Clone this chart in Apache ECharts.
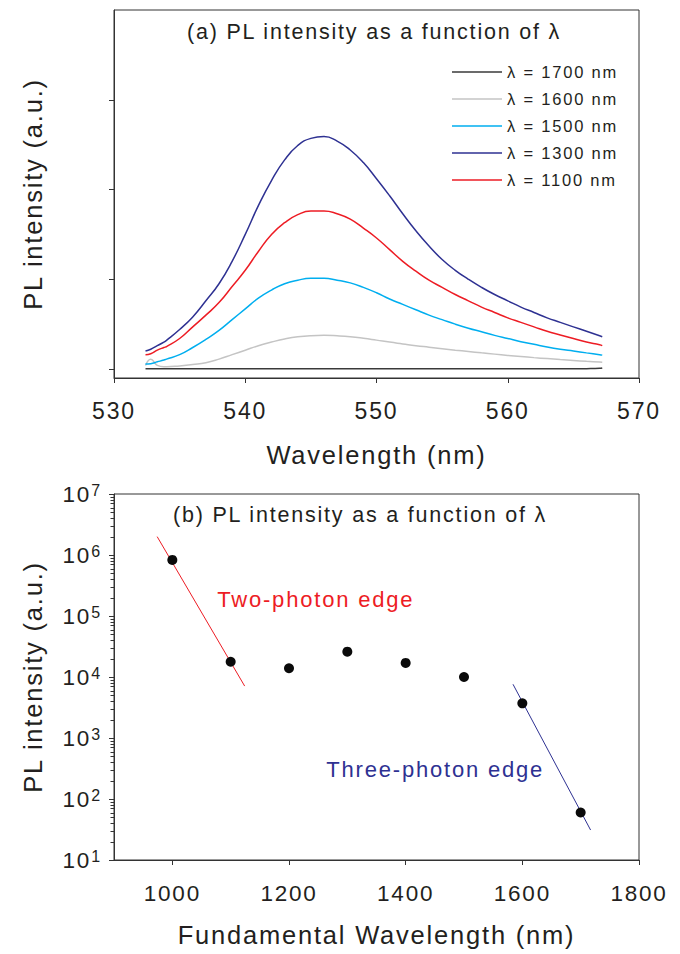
<!DOCTYPE html>
<html><head><meta charset="utf-8">
<script src="https://cdn.jsdelivr.net/npm/echarts@6/dist/echarts.min.js"></script>
<style>
html,body{margin:0;padding:0;background:#fff;}
#c{width:680px;height:954px;}
#c text{letter-spacing:1.8px;}
</style></head><body><div id="c"></div>
<script>
// ---------- Panel (a) data ----------
const wavelengthA = [532.4,532.8,533.3,533.8,534,535,536,537,538,539,540,541,542,543,544,545,546,547,548,549,550,551,552,553,554,555,556,557,558,559,560,561,562,563,564,565,566,567,567.2];
const pl1700 = [0.002,0.002,0.002,0.002,0.002,0.002,0.002,0.002,0.002,0.002,0.002,0.002,0.002,0.002,0.002,0.002,0.002,0.002,0.002,0.002,0.002,0.002,0.002,0.002,0.002,0.002,0.002,0.002,0.002,0.002,0.002,0.002,0.002,0.002,0.002,0.002,0.004,0.008,0.012];
const pl1600 = [0.04,0.11,0.04,0.025,0.025,0.035,0.05,0.07,0.11,0.16,0.21,0.26,0.30,0.335,0.36,0.372,0.375,0.37,0.36,0.343,0.322,0.30,0.28,0.26,0.243,0.226,0.21,0.195,0.18,0.166,0.152,0.139,0.127,0.116,0.105,0.095,0.086,0.078,0.076];
const pl1500 = [0.055,0.06,0.08,0.10,0.11,0.16,0.24,0.33,0.43,0.55,0.67,0.79,0.88,0.95,0.99,1.01,1.01,0.99,0.96,0.91,0.85,0.78,0.72,0.66,0.60,0.55,0.50,0.455,0.415,0.375,0.34,0.305,0.275,0.245,0.22,0.20,0.18,0.16,0.155];
const pl1300 = [0.20,0.22,0.26,0.30,0.32,0.44,0.58,0.76,0.95,1.20,1.50,1.82,2.10,2.33,2.49,2.57,2.59,2.54,2.44,2.30,2.12,1.93,1.73,1.54,1.37,1.22,1.10,1.00,0.91,0.83,0.76,0.69,0.63,0.57,0.52,0.47,0.42,0.37,0.36];
const pl1100 = [0.16,0.17,0.21,0.24,0.25,0.34,0.47,0.60,0.74,0.92,1.10,1.31,1.50,1.63,1.72,1.76,1.76,1.73,1.67,1.57,1.46,1.33,1.20,1.09,0.99,0.91,0.83,0.76,0.69,0.63,0.57,0.52,0.47,0.42,0.38,0.34,0.30,0.27,0.26];
const seriesNamesA = ['λ = 1700 nm','λ = 1600 nm','λ = 1500 nm','λ = 1300 nm','λ = 1100 nm'];
const seriesValuesA = [pl1700, pl1600, pl1500, pl1300, pl1100];
const xTicksA = [530,540,550,560,570];

// ---------- Panel (b) data ----------
const fundWavelength = [1000,1100,1200,1300,1400,1500,1600,1700];
const plIntensityB = [8.3e5,1.78e4,1.39e4,2.6e4,1.7e4,1.0e4,3.7e3,60];
const twoPhotonFitX = [974,1124];
const twoPhotonFitY = [2.0e6,7.1e3];
const threePhotonFitX = [1584,1717];
const threePhotonFitY = [7.6e3,31];
const xTicksB = [1000,1200,1400,1600,1800];
const yTicksB = [1e1,1e2,1e3,1e4,1e5,1e6,1e7];
const yTickExponents = ['1','2','3','4','5','6','7'];
const annotTexts = ['Two-photon edge','Three-photon edge'];
const annotX = [1077,1264];
const annotY = [1.83e5,310];

// ---------- styling ----------
const FONT = 'Liberation Sans';
const TXT = '#231f20';
const AX = '#333';
const colorsA = ['#3a3a3a','#c4c4c4','#00aeef','#2e3192','#ed1c24'];
const annotColors = ['#ed1c24','#2e3192'];

// minor tick positions of the log axis (2..9 x each decade)
const minorB = [];
for (let e = 1; e < 7; e++) for (let k = 2; k <= 9; k++) minorB.push(k * Math.pow(10, e));

const chart = echarts.init(document.getElementById('c'), null, {renderer: 'svg'});

const axisLineStyle = {onZero: false, lineStyle: {color: AX, width: 1}};
const seriesA = seriesNamesA.map((n, i) => ({
  name: n, type: 'line', xAxisIndex: 0, yAxisIndex: 0,
  data: wavelengthA.map((w, j) => [w, seriesValuesA[i][j]]),
  showSymbol: false, symbol: 'none', smooth: 0.5,
  lineStyle: {color: colorsA[i], width: 1.5}, itemStyle: {color: colorsA[i]},
  z: 2 + i
}));

const option = {
  animation: false,
  backgroundColor: '#fff',
  textStyle: {fontFamily: FONT, color: TXT},
  title: [
    {text: '(a) PL intensity as a function of λ', left: 187, top: 20, padding: 0,
     textStyle: {fontFamily: FONT, fontSize: 21.5, fontWeight: 'normal', color: TXT, lineHeight: 24}},
    {text: '(b) PL intensity as a function of λ', left: 173, top: 503, padding: 0,
     textStyle: {fontFamily: FONT, fontSize: 21.5, fontWeight: 'normal', color: TXT, lineHeight: 24}}
  ],
  legend: {
    data: seriesNamesA, orient: 'vertical', left: 452, top: 63, padding: 0,
    icon: 'rect', itemWidth: 50, itemHeight: 1.5, itemGap: 9,
    textStyle: {fontFamily: FONT, fontSize: 16.5, color: TXT, lineHeight: 18},
    selectedMode: false
  },
  grid: [
    {left: 114, right: 41, top: 10, height: 368, show: true, borderColor: AX, borderWidth: 1, backgroundColor: 'transparent'},
    {left: 114, right: 41, top: 494, height: 366, show: true, borderColor: AX, borderWidth: 1, backgroundColor: 'transparent'}
  ],
  xAxis: [
    {type: 'value', gridIndex: 0, min: 530, max: 570, interval: 10,
     axisLine: axisLineStyle, axisTick: {show: true, inside: false, length: 5, lineStyle: {color: AX}},
     splitLine: {show: false},
     axisLabel: {fontFamily: FONT, fontSize: 23, color: TXT, margin: 21, formatter: (v) => String(v)},
     name: 'Wavelength (nm)', nameLocation: 'middle', nameGap: 64,
     nameTextStyle: {fontFamily: FONT, fontSize: 25.5, color: TXT}},
    {type: 'value', gridIndex: 1, min: 900, max: 1800,
     axisLine: axisLineStyle,
     axisTick: {show: true, inside: false, length: 5, lineStyle: {color: AX}, customValues: xTicksB},
     splitLine: {show: false},
     axisLabel: {fontFamily: FONT, fontSize: 22.5, color: TXT, margin: 22, customValues: xTicksB, formatter: (v) => String(v)},
     name: 'Fundamental Wavelength (nm)', nameLocation: 'middle', nameGap: 62,
     nameTextStyle: {fontFamily: FONT, fontSize: 25.5, color: TXT}}
  ],
  yAxis: [
    {type: 'value', gridIndex: 0, min: -0.1, max: 4,
     axisLine: {show: true, onZero: false, lineStyle: {color: AX, width: 1}},
     axisTick: {show: true, inside: false, length: 5, lineStyle: {color: AX}, customValues: [0,1,2,3]},
     axisLabel: {show: false}, splitLine: {show: false},
     name: 'PL intensity (a.u.)', nameLocation: 'middle', nameGap: 68,
     nameTextStyle: {fontFamily: FONT, fontSize: 25.5, color: TXT}},
    {type: 'log', gridIndex: 1, logBase: 10, min: 10, max: 1e7,
     axisLine: {show: true, onZero: false, lineStyle: {color: AX, width: 1}},
     axisTick: {show: true, inside: false, length: 5, lineStyle: {color: AX}, customValues: yTicksB},
     splitLine: {show: false},
     axisLabel: {customValues: yTicksB, margin: 12,
       formatter: (v) => '{b|10}{s|' + yTickExponents[yTicksB.findIndex(t => Math.abs(Math.log10(t) - Math.log10(v)) < 1e-6)] + '}',
       rich: {
         b: {fontFamily: FONT, fontSize: 22.5, color: TXT, lineHeight: 24},
         s: {fontFamily: FONT, fontSize: 16, color: TXT, lineHeight: 16, verticalAlign: 'top', padding: [0,0,0,2]}
       }},
     name: 'PL intensity (a.u.)', nameLocation: 'middle', nameGap: 68,
     nameTextStyle: {fontFamily: FONT, fontSize: 25.5, color: TXT}}
  ],
  series: [
    ...seriesA,
    {type: 'line', name: 'two-photon fit', xAxisIndex: 1, yAxisIndex: 1,
     data: twoPhotonFitX.map((x, i) => [x, twoPhotonFitY[i]]),
     symbol: 'none', lineStyle: {color: '#ed1c24', width: 1}, z: 2},
    {type: 'line', name: 'three-photon fit', xAxisIndex: 1, yAxisIndex: 1,
     data: threePhotonFitX.map((x, i) => [x, threePhotonFitY[i]]),
     symbol: 'none', lineStyle: {color: '#2e3192', width: 1}, z: 2},
    {type: 'scatter', name: 'PL', xAxisIndex: 1, yAxisIndex: 1,
     data: fundWavelength.map((x, i) => [x, plIntensityB[i]]),
     symbol: 'circle', symbolSize: 10, itemStyle: {color: '#0a0a0a', opacity: 1}, z: 4},
    {type: 'scatter', name: 'annotations', xAxisIndex: 1, yAxisIndex: 1,
     data: annotTexts.map((t, i) => ({name: t, value: [annotX[i], annotY[i]],
       label: {color: annotColors[i]}})),
     symbolSize: 0, silent: true, itemStyle: {opacity: 1},
     label: {show: true, position: 'right', distance: 0, formatter: '{b}',
       fontFamily: FONT, fontSize: 22, opacity: 1}},
    // minor ticks of the log axis (outward, short), positioned through the axis scale
    {type: 'custom', name: 'minorTicks', xAxisIndex: 1, yAxisIndex: 1, silent: true, clip: false, z: 10,
     encode: {x: 0, y: 1},
     data: minorB.map((v) => [900, v]),
     renderItem: function (params, api) {
       const p = api.coord([api.value(0), api.value(1)]);
       const y = Math.round(p[1]);
       return {type: 'rect', shape: {x: p[0] - 3.5, y: y, width: 3.5, height: 1},
               style: {fill: AX}};
     }}
  ]
};
chart.setOption(option);
</script></body></html>
